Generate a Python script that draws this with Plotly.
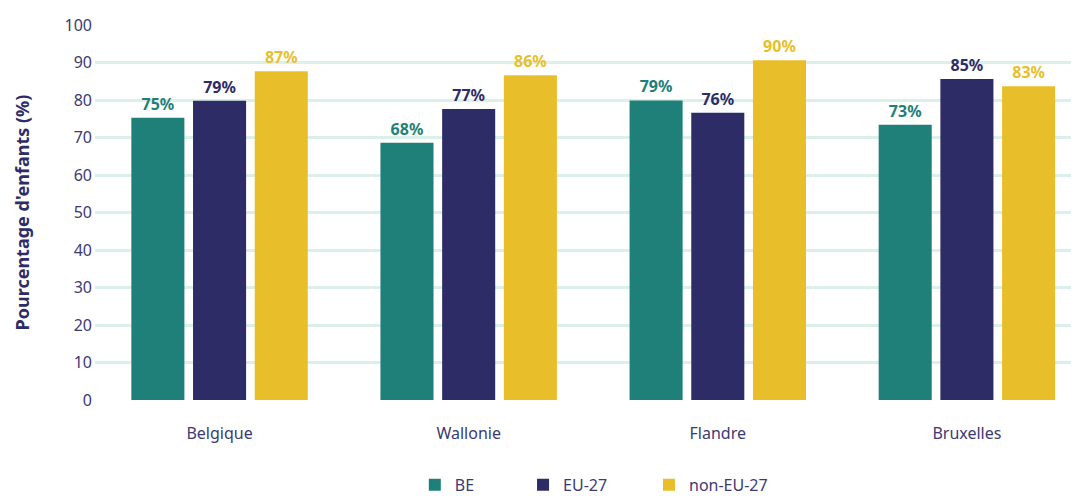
import plotly.graph_objects as go

categories = ["Belgique", "Wallonie", "Flandre", "Bruxelles"]
series_names = ["BE", "EU-27", "non-EU-27"]
be_values = [75.3, 68.6, 79.9, 73.4]
eu_values = [79.8, 77.6, 76.6, 85.6]
noneu_values = [87.7, 86.6, 90.6, 83.7]
be_labels = ["75%", "68%", "79%", "73%"]
eu_labels = ["79%", "77%", "76%", "85%"]
noneu_labels = ["87%", "86%", "90%", "83%"]
y_ticks = [0, 10, 20, 30, 40, 50, 60, 70, 80, 90, 100]

colors = ["#1e8078", "#2e2c66", "#e8bf2a"]
legend_ids = ["legend", "legend2", "legend3"]
legend_x = [0.325, 0.435, 0.563]
font_family = "Noto Sans"
ink = "#3b3a72"

fig = go.Figure()
for name, vals, labels, col, lid in zip(series_names,
                                        [be_values, eu_values, noneu_values],
                                        [be_labels, eu_labels, noneu_labels],
                                        colors, legend_ids):
    fig.add_trace(go.Bar(
        x=categories, y=vals, name=name, marker_color=col,
        marker_line_width=0, legend=lid,
        text=labels, textposition="outside",
        textfont=dict(color=col, size=16, family=font_family, weight="bold"),
        cliponaxis=False,
    ))

# page body has an 8px margin: figure is sized/placed to compensate
fig.update_layout(
    width=1071, height=488,
    margin=dict(l=87, r=0, t=17, b=96, autoexpand=False),
    plot_bgcolor="white", paper_bgcolor="white",
    barmode="group", bargap=0.257, bargroupgap=0.14,
    font=dict(family=font_family, color=ink),
    showlegend=True,
)
for lid, lx in zip(legend_ids, legend_x):
    fig.update_layout({lid: dict(orientation="h", x=lx, xanchor="left", y=-0.226,
                                 yanchor="middle", font=dict(size=16, color=ink),
                                 itemwidth=30, bgcolor="rgba(0,0,0,0)")})
fig.update_xaxes(range=[-0.5, 3.45], showgrid=False, showline=False, zeroline=False,
                 automargin=False,
                 tickfont=dict(size=16, color=ink), ticks="", ticklabelstandoff=22)
fig.update_yaxes(range=[0, 100], tickvals=y_ticks, showgrid=True, gridcolor="#dcefe8",
                 gridwidth=3, zeroline=False, showline=False, ticks="", automargin=False,
                 tickfont=dict(size=16, color=ink), ticklabelstandoff=2,
                 title=dict(text="Pourcentage d'enfants (%)", standoff=30,
                            font=dict(size=18, color="#2e2c66", weight="bold")))

fig.write_html("out.html")
